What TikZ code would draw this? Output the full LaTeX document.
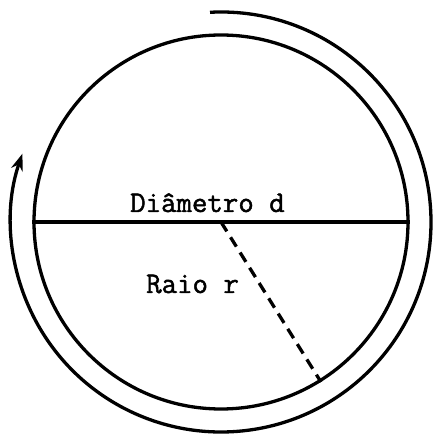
\documentclass[tikz,border=0pt]{standalone}
\usepackage{fontspec}
\setmonofont[FakeBold=1.5]{Latin Modern Mono}
\usetikzlibrary{arrows.meta,calc}
\tikzset{
  ink/.style={line width=3.3pt, black},
  lbl/.style={font=\ttfamily\fontsize{30}{32}\selectfont, inner sep=0pt, anchor=base west},
}
\begin{document}
\begin{tikzpicture}[x=1pt,y=1pt]
\useasboundingbox (0,0) rectangle (432,436);
\coordinate (C) at (221,214);
\node (circ) [circle, draw, ink, minimum size=374pt, inner sep=0pt] at (C) {};
\draw[ink] (circ.west) -- (circ.east);
\draw[ink, dash pattern=on 11pt off 7pt] (C) -- (circ.-58);
\coordinate (start) at ($(C)+(93:210)$);
\draw[ink, -{Stealth[length=17pt,width=12pt]}] (start) arc[start angle=93, end angle=-199, radius=210];
\node (dia) [lbl] at (130,224) {Diâmetro d};
\node (raio) [lbl] at (146,143) {Raio r};
\end{tikzpicture}
\end{document}
